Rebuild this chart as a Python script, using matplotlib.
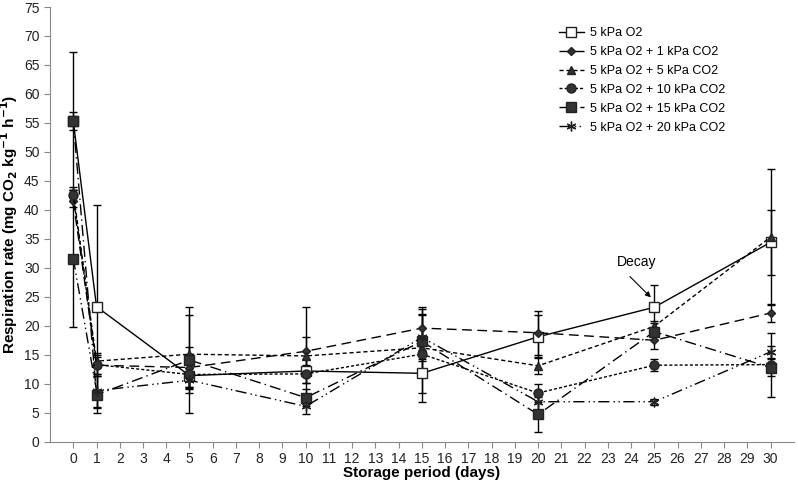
import matplotlib
matplotlib.use("Agg")
import matplotlib.pyplot as plt

plt.rcParams["font.family"] = ["Liberation Sans", "DejaVu Sans"]

days = [0, 1, 5, 10, 15, 20, 25, 30]
labels = ["5 kPa O2", "5 kPa O2 + 1 kPa CO2", "5 kPa O2 + 5 kPa CO2",
          "5 kPa O2 + 10 kPa CO2", "5 kPa O2 + 15 kPa CO2", "5 kPa O2 + 20 kPa CO2"]

o2 = [55.3, 23.3, 11.4, 12.2, 11.8, 18.1, 23.2, 34.4]
co2_1 = [41.5, 13.2, 12.8, 15.6, 19.6, 18.8, 17.5, 22.2]
co2_5 = [43.0, 13.9, 15.1, 14.8, 16.2, 13.1, 19.9, 35.3]
co2_10 = [42.5, 13.3, 11.6, 11.7, 15.1, 8.4, 13.2, 13.3]
co2_15 = [55.3, 8.1, 14.1, 7.6, 17.3, 4.7, 19.0, 12.8]
co2_20 = [31.6, 8.8, 10.6, 6.1, 18.0, 6.9, 6.9, 15.5]

err_o2 = [1.6, 17.5, 2.0, 2.0, 5.0, 3.7, 3.9, 5.6]
err_1 = [1.0, 1.5, 3.6, 7.7, 3.7, 3.8, 1.5, 1.6]
err_5 = [1.0, 1.0, 6.7, 3.2, 2.0, 1.5, 1.0, 11.7]
err_10 = [1.0, 2.0, 2.2, 1.5, 6.7, 1.5, 1.0, 5.5]
err_15 = [11.9, 3.2, 9.1, 1.5, 5.6, 3.0, 1.5, 1.5]
err_20 = [11.8, 2.8, 1.5, 1.3, 4.0, 1.5, 0.5, 1.0]

series = [o2, co2_1, co2_5, co2_10, co2_15, co2_20]
errors = [err_o2, err_1, err_5, err_10, err_15, err_20]
styles = [
    dict(ls="-", marker="s", mfc="white", ms=6.5),
    dict(ls=(0, (7, 4)), marker="D", mfc="#333333", ms=4.5),
    dict(ls=(0, (3, 2)), marker="^", mfc="#333333", ms=6),
    dict(ls=(0, (2.2, 1.5)), marker="o", mfc="#333333", ms=6.5),
    dict(ls=(0, (8, 3, 1, 3)), marker="s", mfc="#333333", ms=7),
    dict(ls=(0, (8, 3, 1, 2.5, 1, 2.5)), marker=(6, 2, 0), mfc="#333333", ms=7),
]

fig = plt.figure(figsize=(7.98, 4.87), dpi=100)
ax = fig.add_axes([0.0627, 0.093, 0.932, 0.8926])

handles = []
for y, e, lab, st in zip(series, errors, labels, styles):
    ax.errorbar(days, y, yerr=e, fmt="none", ecolor="black", elinewidth=1,
                capsize=3, capthick=1, zorder=2, label="_nolegend_")
    ln, = ax.plot(days, y, color="black", lw=1, ls=st["ls"], marker=st["marker"],
                  mfc=st["mfc"], mec="#222222", ms=st["ms"], label=lab, zorder=3)
    handles.append(ln)

# day-0 point of the 20 kPa series is drawn as a square in the original
ax.plot(days[0], co2_20[0], marker="s", ls="none", mfc="#333333",
        mec="#222222", ms=7, zorder=4)

ax.text(24.25, 31.0, "Decay", ha="center", va="center", fontsize=10)
ax.annotate("", xy=(24.85, 24.9), xytext=(23.95, 28.5),
            arrowprops=dict(arrowstyle="-|>", color="black", lw=0.8,
                            shrinkA=0, shrinkB=0, mutation_scale=8))

ax.set_xlim(-1, 31)
ax.set_ylim(0, 75)
ax.set_xticks(range(0, 31))
ax.set_yticks(range(0, 76, 5))
ax.tick_params(direction="out", length=4, labelsize=10, color="#888888",
               labelcolor="#222222")
for s in ["top", "right"]:
    ax.spines[s].set_visible(False)
for s in ["left", "bottom"]:
    ax.spines[s].set_color("#888888")
ax.set_xlabel("Storage period (days)", fontsize=11, fontweight="bold",
              labelpad=0)
ax.set_ylabel("Respiration rate (mg CO$_\\mathbf{2}$ kg$^{\\mathbf{-1}}$ h$^{\\mathbf{-1}}$)",
              fontsize=11, fontweight="bold")
ax.yaxis.set_label_coords(-0.040, 0.5)

ax.legend(handles, labels, loc="upper left", bbox_to_anchor=(0.677, 0.965),
          frameon=False, fontsize=9, handlelength=2.0, handletextpad=0.5,
          labelspacing=0.55, borderaxespad=0, alignment="left")

fig.savefig("out.png", dpi=100)
